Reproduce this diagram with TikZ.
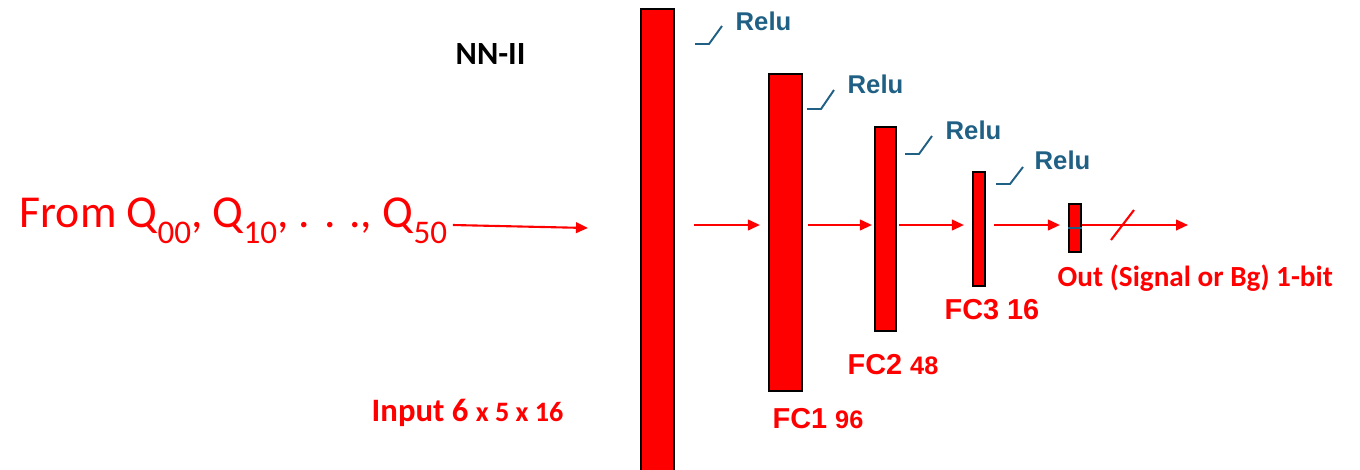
\documentclass[tikz,border=0pt]{standalone}
\usepackage{fontspec}
\setmainfont{Carlito}
\newfontfamily\arialfont{Liberation Sans}
\usepackage{xcolor}
\usetikzlibrary{positioning, calc, arrows.meta}
\definecolor{netred}{RGB}{255,0,0}
\definecolor{relublue}{RGB}{31,96,132}
\newcommand{\qsub}[1]{\raisebox{-0.16cm}{\fontsize{9.4}{9}\selectfont #1}}

\begin{document}
\begin{tikzpicture}[x=0.01cm, y=-0.01cm]
	\tikzset{arrow/.style={-{Triangle[length=3.4pt,width=3pt]}, netred, line width=0.6pt}}
	\tikzset{Layer/.style={draw=black, fill=netred, line width=0.6pt, rectangle, inner sep=0pt}}
	\tikzset{ReluLabel/.style={relublue, anchor=base west, inner sep=0pt, font=\arialfont\bfseries\fontsize{7.3}{8}\selectfont}}
	\tikzset{ReluTick/.style={relublue, line width=0.55pt}}
	\tikzset{FCLabel/.style={netred, anchor=base west, inner sep=0pt, font=\arialfont\bfseries\fontsize{8.2}{9}\selectfont}}

	\clip (0,0) rectangle (1360,469);

	% signal level
	\coordinate (axis) at (0,225);

	% Title
	\node (title) [anchor=base west, inner sep=0pt, font=\bfseries\fontsize{9.2}{10}\selectfont] at (455,64) {NN-II};

	% Input
	\node (fromtxt) [netred, anchor=base west, inner sep=0pt, font=\fontsize{13}{14}\selectfont] at (19,227) {From Q\qsub{00}, Q\qsub{10}, . . ., Q\qsub{50}};
	\node (inbar) [Layer, minimum width=0.33cm, minimum height=4.71cm] at (657.5,244.5) {};
	\node (inlab) [netred, anchor=base west, inner sep=0pt, font=\bfseries\fontsize{9.3}{11}\selectfont] at (371,421) {Input 6 {\fontsize{8}{9}\selectfont x 5 x 16}};
	\draw [arrow] ([xshift=0.05cm,yshift=0.02cm]fromtxt.base east) -- ([xshift=-0.52cm,yshift=-0.03cm]inbar.west |- axis);
	\draw [ReluTick] (695,44) -- (709,44) -- (722,26);
	\node (relu0) [ReluLabel] at (735,30) {Relu};

	% FC1
	\node (fc1) [Layer, minimum width=0.33cm, minimum height=3.17cm] at (785.5,232.5) {};
	\node (fc1lab) [FCLabel] at (772,428) {FC1 {\fontsize{7.2}{8}\selectfont 96}};
	\draw [arrow] ([xshift=0.19cm]inbar.east |- axis) -- ([xshift=-0.08cm]fc1.west |- axis);
	\draw [ReluTick] (807,109) -- (821,109) -- (834,90);
	\node (relu1) [ReluLabel] at (847,93) {Relu};

	% FC2
	\node (fc2) [Layer, minimum width=0.21cm, minimum height=2.04cm] at (885.5,229) {};
	\node (fc2lab) [FCLabel] at (847,374) {FC2 {\fontsize{7.2}{8}\selectfont 48}};
	\draw [arrow] ([xshift=0.05cm]fc1.east |- axis) -- ([xshift=-0.02cm]fc2.west |- axis);
	\draw [ReluTick] (905,154) -- (919,154) -- (932,136);
	\node (relu2) [ReluLabel] at (945,139) {Relu};

	% FC3
	\node (fc3) [Layer, minimum width=0.12cm, minimum height=1.14cm] at (979,229) {};
	\node (fc3lab) [FCLabel] at (944,319) {FC3 16};
	\draw [arrow] ([xshift=0.02cm]fc2.east |- axis) -- ([xshift=-0.08cm]fc3.west |- axis);
	\draw [ReluTick] (996,184) -- (1010,184) -- (1023,167);
	\node (relu3) [ReluLabel] at (1034,169) {Relu};

	% Output
	\node (outbar) [Layer, minimum width=0.12cm, minimum height=0.48cm] at (1075,228) {};
	\node (outlab) [netred, anchor=base west, inner sep=0pt, font=\bfseries\fontsize{8.3}{9}\selectfont] at (1057,286) {Out (Signal or Bg) 1-bit};
	\draw [arrow] ([xshift=0.08cm]fc3.east |- axis) -- ([xshift=-0.08cm]outbar.west |- axis);
	\draw [relublue, line width=0.4pt] (outbar.west |- 0,228) -- (outbar.east |- 0,228);
	\coordinate (outend) at (1188,225);
	\draw [arrow] (outbar.east |- axis) -- (outend);
	\draw [netred, line width=0.6pt] (1111,240) -- (1134,210);

\end{tikzpicture}
\end{document}
